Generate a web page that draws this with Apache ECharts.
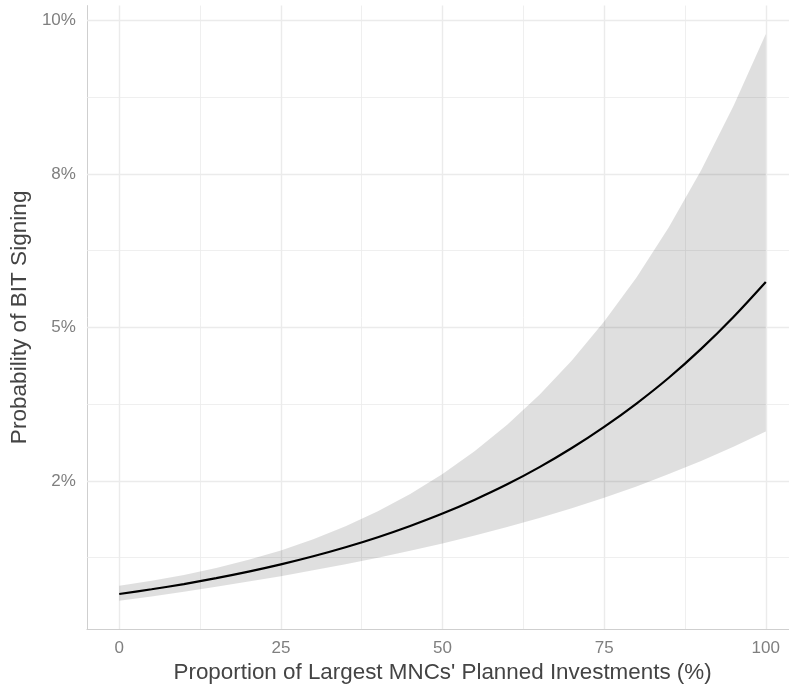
<!DOCTYPE html>
<html>
<head>
<meta charset="utf-8">
<script src="https://cdn.jsdelivr.net/npm/echarts@6/dist/echarts.min.js"></script>
<style>
html,body{margin:0;padding:0;background:#fff;}
#chart{width:789px;height:689px;}
</style>
</head>
<body>
<div id="chart"></div>
<script>
// Data (percent units)
var proportion = [0,5,10,15,20,25,30,35,40,45,50,55,60,65,70,75,80,85,90,95,100];
var probFit   = [0.658,0.735,0.820,0.916,1.022,1.140,1.272,1.419,1.583,1.766,1.968,2.194,2.444,2.724,3.035,3.380,3.760,4.180,4.650,5.170,5.740];
var probUpper = [0.791,0.873,0.969,1.081,1.214,1.368,1.550,1.762,2.006,2.288,2.614,2.986,3.413,3.902,4.462,5.097,5.814,6.631,7.559,8.606,9.779];
var probLower = [0.548,0.618,0.694,0.775,0.860,0.949,1.043,1.142,1.248,1.361,1.480,1.610,1.748,1.897,2.055,2.227,2.410,2.611,2.825,3.056,3.306];

var xTicks = [0,25,50,75,100];
var xMinorTicks = [12.5,37.5,62.5,87.5];
var yTicks = [2.5,5,7.5,10];
var yTickLabels = ['2%','5%','8%','10%'];
var yMinorTicks = [1.25,3.75,6.25,8.75];

var xTitle = "Proportion of Largest MNCs' Planned Investments (%)";
var yTitle = "Probability of BIT Signing";

var font = "'Liberation Sans', Arial, Helvetica, sans-serif";
var gridColor = '#ebebeb';

function pairs(a){ return proportion.map(function(v,i){ return [v, a[i]]; }); }
var bandData = proportion.map(function(v,i){ return [v, probLower[i], probUpper[i]]; });

var gridLines = [];
xMinorTicks.forEach(function(v){ gridLines.push({xAxis: v, lineStyle:{color:gridColor,width:0.8,type:'solid'}}); });
yMinorTicks.forEach(function(v){ gridLines.push({yAxis: v, lineStyle:{color:gridColor,width:0.8,type:'solid'}}); });
xTicks.forEach(function(v){ gridLines.push({xAxis: v, lineStyle:{color:gridColor,width:1.4,type:'solid'}}); });
yTicks.forEach(function(v){ gridLines.push({yAxis: v, lineStyle:{color:gridColor,width:1.4,type:'solid'}}); });

var chart = echarts.init(document.getElementById('chart'), null, {renderer:'canvas'});
chart.setOption({
  animation: false,
  backgroundColor: '#ffffff',
  grid: {left: 86.35, right: 0, top: 5.6, bottom: 56.7, containLabel: false},
  xAxis: {
    type: 'value', min: -5, max: 103.59,
    name: xTitle, nameLocation: 'middle', nameGap: 32,
    nameTextStyle: {fontFamily: font, fontSize: 22.4, color: '#444444', padding: [0,0,0,9.2]},
    axisLine: {show: true, onZero: false, lineStyle: {color: '#cfcfcf', width: 1}},
    axisTick: {show: false, customValues: xTicks},
    splitLine: {show: false},
    axisLabel: {customValues: xTicks, fontFamily: font, fontSize: 17, color: '#7f7f7f', margin: 11}
  },
  yAxis: {
    type: 'value', min: 0.0864, max: 10.24,
    name: yTitle, nameLocation: 'middle', nameGap: 47,
    nameTextStyle: {fontFamily: font, fontSize: 22.6, color: '#444444'},
    axisLine: {show: true, onZero: false, lineStyle: {color: '#cfcfcf', width: 1}},
    axisTick: {show: false, customValues: yTicks},
    splitLine: {show: false},
    axisLabel: {customValues: yTicks, fontFamily: font, fontSize: 17, color: '#7f7f7f', margin: 11,
      formatter: function(v){ var i = yTicks.indexOf(v); return i >= 0 ? yTickLabels[i] : ''; }}
  },
  series: [
    {
      name: 'grid', type: 'line', data: pairs(probFit), z: 1, silent: true,
      symbol: 'none', lineStyle: {opacity: 0},
      markLine: {silent: true, z: 1, symbol: ['none','none'], label: {show: false}, animation: false, data: gridLines}
    },
    {
      name: 'band', type: 'custom', data: bandData, z: 3, silent: true,
      encode: {x: 0, y: [1, 2]},
      renderItem: function(params, api){
        if (params.dataIndex !== 0) return null;
        var upperPts = [], lowerPts = [];
        for (var i = 0; i < bandData.length; i++) {
          upperPts.push(api.coord([bandData[i][0], bandData[i][2]]));
          lowerPts.push(api.coord([bandData[i][0], bandData[i][1]]));
        }
        var pts = upperPts.concat(lowerPts.reverse());
        return {type: 'polygon', shape: {points: pts}, style: {fill: 'rgba(0,0,0,0.125)'}};
      }
    },
    {
      name: 'fit', type: 'line', data: pairs(probFit), z: 4, silent: true,
      symbol: 'none', smooth: 0.3, lineStyle: {color: '#000000', width: 2.2}
    }
  ]
});
</script>
</body>
</html>
